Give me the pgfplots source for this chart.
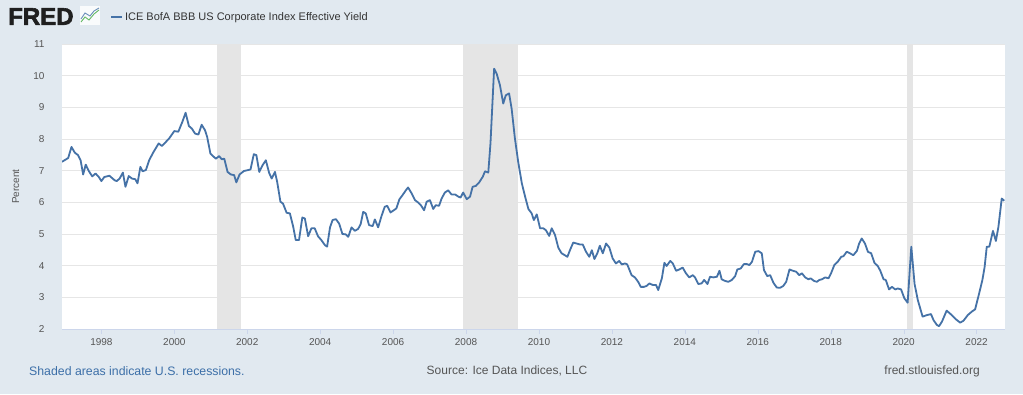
\documentclass[border=0pt]{standalone}
\usepackage{pgfplots}
\pgfplotsset{compat=1.18}
\usepackage{fontspec}
\setmainfont{Liberation Sans}
\newfontfamily\fredfont[FakeBold=2.5]{Liberation Sans Bold}
\definecolor{bgc}{HTML}{E1E9F0}
\definecolor{linec}{HTML}{4572A7}
\definecolor{recc}{HTML}{E5E5E5}
\definecolor{gridc}{HTML}{E6E6E6}
\definecolor{axc}{HTML}{CCD6EB}
\definecolor{txtc}{HTML}{555555}
\definecolor{legc}{HTML}{333333}
\definecolor{notec}{HTML}{3C6FA8}
\begin{document}
\begin{tikzpicture}[x=1pt,y=1pt]
\fill[bgc] (0,0) rectangle (1023,394);
% FRED logo
\node[anchor=west,inner sep=0pt,font=\fontsize{24}{24}\fredfont,text=black!88] at (8,377.5) {FRED};
\fill[white!80!bgc] (80,369) rectangle (100,388);
\draw[green!55!black!60,line width=0.9pt] (81,372) -- (85,377) -- (89,374) -- (94,380) -- (99,384);
\draw[linec!80,line width=0.9pt] (81,375) -- (85,381) -- (90,378) -- (94,383) -- (99,386);
\begin{axis}[
  at={(62pt,65pt)}, anchor=south west,
  width=943pt, height=285pt, scale only axis,
  xmin=1996.92, xmax=2022.78, ymin=2, ymax=11,
  axis background/.style={fill=white},
  separate axis lines,
  axis x line*=bottom, axis y line*=left,
  x axis line style={draw=axc},
  y axis line style={draw=none},
  xtick={1998,2000,...,2022},
  ytick={2,3,...,11},
  xticklabel style={/pgf/number format/1000 sep={}, font=\fontsize{10}{12}\selectfont, text=txtc, yshift=-1pt},
  yticklabel style={font=\fontsize{10}{12}\selectfont, text=txtc, xshift=-9pt},
  /pgf/number format/assume math mode=true,
  tick align=outside,
  major tick length=5pt,
  xtick style={draw=axc},
  ytick style={draw=none},
  ymajorgrids=true,
  major grid style={draw=gridc, line width=0.8pt},
  ylabel={Percent},
  ylabel style={font=\fontsize{10}{12}\selectfont, text=txtc, at={(axis description cs:-0.049,0.5)}, anchor=center},
  legend style={draw=none, fill=none, at={(axis description cs:0.051,1.095)}, anchor=west, font=\fontsize{11}{13}\selectfont, text=legc, inner sep=0pt},
  legend image code/.code={\draw[#1] (0pt,0pt) -- (11pt,0pt);},
  clip=true,
]
\addplot[fill=recc, draw=none, forget plot] coordinates {(2001.17,2) (2001.17,11) (2001.83,11) (2001.83,2)} -- cycle;
\addplot[fill=recc, draw=none, forget plot] coordinates {(2007.92,2) (2007.92,11) (2009.42,11) (2009.42,2)} -- cycle;
\addplot[fill=recc, draw=none, forget plot] coordinates {(2020.10,2) (2020.10,11) (2020.26,11) (2020.26,2)} -- cycle;
\addplot[color=linec, line width=1.8pt, line join=round] coordinates {
(1996.92,7.28) (1997.09,7.40) (1997.18,7.75) (1997.27,7.57) (1997.36,7.49) (1997.43,7.33)
(1997.50,6.88) (1997.57,7.19) (1997.66,6.98) (1997.75,6.82) (1997.84,6.91) (1997.93,6.80)
(1998.00,6.67) (1998.08,6.80) (1998.22,6.84) (1998.36,6.70) (1998.42,6.67) (1998.50,6.75)
(1998.59,6.94) (1998.66,6.49) (1998.75,6.83) (1998.84,6.75) (1998.93,6.73) (1998.99,6.60)
(1999.07,7.12) (1999.13,6.98) (1999.22,7.02) (1999.31,7.33) (1999.42,7.57) (1999.57,7.86)
(1999.66,7.78) (1999.77,7.91) (1999.86,8.02) (2000.00,8.25) (2000.11,8.23) (2000.22,8.54)
(2000.31,8.83) (2000.40,8.41) (2000.48,8.33) (2000.57,8.17) (2000.66,8.14) (2000.75,8.45)
(2000.84,8.28) (2000.90,8.07) (2000.99,7.54) (2001.08,7.44) (2001.14,7.38) (2001.23,7.46)
(2001.30,7.36) (2001.37,7.38) (2001.46,6.96) (2001.55,6.88) (2001.64,6.86) (2001.70,6.63)
(2001.79,6.88) (2001.91,6.99) (2002.03,7.02) (2002.09,7.04) (2002.18,7.52) (2002.25,7.49)
(2002.33,6.96) (2002.42,7.17) (2002.51,7.33) (2002.60,6.93) (2002.67,6.75) (2002.76,6.96)
(2002.82,6.65) (2002.91,6.02) (2002.98,5.96) (2003.08,5.67) (2003.17,5.65) (2003.26,5.23)
(2003.33,4.81) (2003.42,4.81) (2003.51,5.52) (2003.58,5.49) (2003.67,4.93) (2003.76,5.18)
(2003.85,5.18) (2003.94,4.93) (2004.03,4.81) (2004.13,4.65) (2004.19,4.60) (2004.27,5.21)
(2004.34,5.44) (2004.43,5.47) (2004.52,5.33) (2004.61,5.00) (2004.70,4.99) (2004.77,4.91)
(2004.86,5.21) (2004.95,5.10) (2005.04,5.16) (2005.11,5.31) (2005.18,5.70) (2005.25,5.65)
(2005.34,5.28) (2005.44,5.25) (2005.50,5.46) (2005.59,5.21) (2005.68,5.56) (2005.77,5.86)
(2005.84,5.89) (2005.93,5.68) (2006.02,5.75) (2006.09,5.81) (2006.17,6.09) (2006.26,6.23)
(2006.35,6.38) (2006.41,6.47) (2006.51,6.28) (2006.60,6.07) (2006.69,5.99) (2006.76,5.91)
(2006.85,5.75) (2006.92,6.02) (2007.01,6.07) (2007.10,5.79) (2007.17,5.91) (2007.26,5.89)
(2007.33,6.12) (2007.42,6.31) (2007.51,6.38) (2007.60,6.25) (2007.70,6.25) (2007.79,6.18)
(2007.85,6.15) (2007.92,6.31) (2008.02,6.10) (2008.11,6.18) (2008.18,6.49) (2008.27,6.52)
(2008.36,6.63) (2008.46,6.81) (2008.52,6.98) (2008.61,6.94) (2008.67,7.86) (2008.77,10.22)
(2008.84,10.06) (2008.93,9.70) (2009.02,9.12) (2009.09,9.38) (2009.18,9.44) (2009.25,8.96)
(2009.34,8.02) (2009.43,7.28) (2009.53,6.60) (2009.62,6.18) (2009.71,5.79) (2009.80,5.65)
(2009.86,5.44) (2009.94,5.62) (2010.03,5.18) (2010.12,5.18) (2010.19,5.12) (2010.28,4.94)
(2010.35,5.18) (2010.44,4.97) (2010.53,4.57) (2010.62,4.39) (2010.71,4.33) (2010.78,4.28)
(2010.85,4.49) (2010.94,4.73) (2011.03,4.70) (2011.12,4.67) (2011.20,4.67) (2011.29,4.44)
(2011.38,4.28) (2011.45,4.49) (2011.52,4.21) (2011.60,4.39) (2011.67,4.63) (2011.75,4.39)
(2011.84,4.70) (2011.93,4.57) (2012.02,4.23) (2012.11,4.07) (2012.20,4.15) (2012.27,4.04)
(2012.36,4.07) (2012.42,4.04) (2012.54,3.70) (2012.63,3.63) (2012.72,3.49) (2012.79,3.33)
(2012.88,3.33) (2012.95,3.36) (2013.03,3.44) (2013.12,3.39) (2013.21,3.39) (2013.27,3.23)
(2013.37,3.60) (2013.44,4.09) (2013.50,3.99) (2013.60,4.15) (2013.67,4.07) (2013.76,3.84)
(2013.85,3.88) (2013.94,3.94) (2014.03,3.76) (2014.12,3.63) (2014.22,3.70) (2014.28,3.63)
(2014.37,3.42) (2014.46,3.44) (2014.53,3.55) (2014.62,3.42) (2014.69,3.65) (2014.78,3.63)
(2014.88,3.65) (2014.95,3.84) (2015.01,3.57) (2015.10,3.52) (2015.19,3.49) (2015.29,3.55)
(2015.38,3.67) (2015.44,3.88) (2015.53,3.91) (2015.62,4.05) (2015.70,4.05) (2015.77,4.02)
(2015.84,4.12) (2015.93,4.44) (2016.02,4.46) (2016.11,4.39) (2016.17,3.86) (2016.26,3.67)
(2016.34,3.70) (2016.43,3.46) (2016.52,3.31) (2016.61,3.30) (2016.70,3.36) (2016.78,3.49)
(2016.87,3.88) (2016.96,3.84) (2017.05,3.81) (2017.14,3.70) (2017.21,3.76) (2017.30,3.63)
(2017.39,3.57) (2017.45,3.60) (2017.54,3.52) (2017.62,3.49) (2017.69,3.55) (2017.76,3.57)
(2017.85,3.63) (2017.94,3.60) (2018.01,3.76) (2018.10,4.02) (2018.19,4.12) (2018.29,4.28)
(2018.35,4.30) (2018.44,4.44) (2018.53,4.39) (2018.62,4.33) (2018.72,4.47) (2018.78,4.70)
(2018.85,4.86) (2018.94,4.70) (2019.02,4.44) (2019.11,4.39) (2019.20,4.09) (2019.29,3.99)
(2019.36,3.84) (2019.45,3.57) (2019.51,3.55) (2019.60,3.25) (2019.68,3.33) (2019.77,3.25)
(2019.84,3.28) (2019.93,3.25) (2020.02,2.97) (2020.11,2.83) (2020.21,4.60) (2020.30,3.42)
(2020.39,2.91) (2020.52,2.39) (2020.64,2.44) (2020.75,2.47) (2020.82,2.28) (2020.91,2.13)
(2020.97,2.09) (2021.05,2.23) (2021.18,2.58) (2021.32,2.44) (2021.43,2.31) (2021.55,2.20)
(2021.64,2.26) (2021.76,2.44) (2021.87,2.55) (2021.96,2.62) (2022.07,3.12) (2022.16,3.55)
(2022.22,3.95) (2022.28,4.60) (2022.35,4.60) (2022.45,5.10) (2022.53,4.78) (2022.60,5.23)
(2022.69,6.12) (2022.76,6.05)
};
\addlegendentry{ICE BofA BBB US Corporate Index Effective Yield}
\end{axis}
% footer
\node[anchor=west,inner sep=0pt,font=\fontsize{12.3}{14}\selectfont,text=notec] at (29,23) {Shaded areas indicate U.S. recessions.};
\node[anchor=center,inner sep=0pt,font=\fontsize{12}{14}\selectfont,text=txtc] at (507,23) {Source: Ice Data Indices, LLC};
\node[anchor=east,inner sep=0pt,font=\fontsize{12}{14}\selectfont,text=txtc] at (980,23) {fred.stlouisfed.org};
\end{tikzpicture}
\end{document}
